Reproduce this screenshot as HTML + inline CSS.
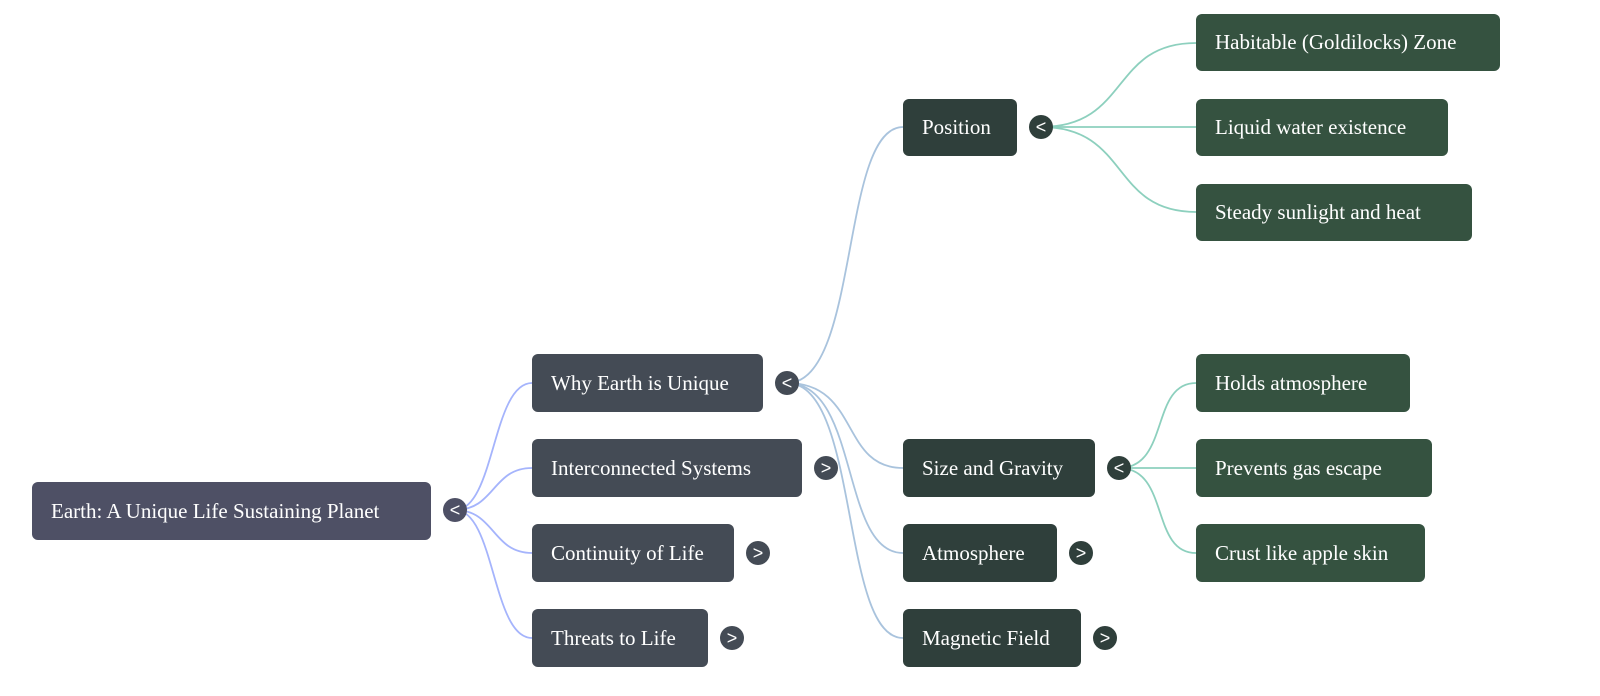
<!DOCTYPE html>
<html><head><meta charset="utf-8"><style>
body{margin:0;width:1600px;height:696px;background:#fff;position:relative;overflow:hidden;font-family:"Liberation Serif",serif}
.n{position:absolute;box-sizing:border-box;border-radius:6px;color:#fff;font-size:21px;padding-left:19px;display:flex;align-items:center;white-space:nowrap}
.r{background:#4e5065}.a{background:#444b55}.b{background:#2f3f3b}.c{background:#355240}
.t{position:absolute;width:24px;height:24px;border-radius:50%;color:#fff;font-family:"Liberation Sans",sans-serif;font-size:18px;display:flex;align-items:center;justify-content:center;line-height:1}
svg{position:absolute;left:0;top:0}
</style></head><body>
<svg width="1600" height="696" fill="none" stroke-width="1.8">
<g stroke="#a5b4fc">
<path d="M455 510 C495 510,492 383,532 383"/><path d="M455 510 C495 510,492 468,532 468"/><path d="M455 510 C495 510,492 553,532 553"/><path d="M455 510 C495 510,492 638,532 638"/>
</g>
<g stroke="#a9c3dd">
<path d="M787 383 C860 383,840 127,903 127"/><path d="M787 383 C860 383,840 468,903 468"/><path d="M787 383 C860 383,840 553,903 553"/><path d="M787 383 C860 383,840 638,903 638"/>
</g>
<g stroke="#8dd0be">
<path d="M1041 127 C1130 127,1110 43,1196 43"/><path d="M1041 127 L1196 127"/><path d="M1041 127 C1130 127,1110 212,1196 212"/>
<path d="M1119 468 C1170 468,1150 383,1196 383"/><path d="M1119 468 L1196 468"/><path d="M1119 468 C1170 468,1150 553,1196 553"/>
</g>
</svg>
<div class="n r" style="left:32px;top:482px;width:399px;height:58px">Earth: A Unique Life Sustaining Planet</div>
<div class="t" style="left:443px;top:498px;background:#4e5065">&lt;</div>
<div class="n a" style="left:532px;top:354px;width:231px;height:58px">Why Earth is Unique</div>
<div class="n a" style="left:532px;top:439px;width:270px;height:58px">Interconnected Systems</div>
<div class="n a" style="left:532px;top:524px;width:202px;height:58px">Continuity of Life</div>
<div class="n a" style="left:532px;top:609px;width:176px;height:58px">Threats to Life</div>
<div class="t" style="left:775px;top:371px;background:#444b55">&lt;</div>
<div class="t" style="left:814px;top:456px;background:#444b55">&gt;</div>
<div class="t" style="left:746px;top:541px;background:#444b55">&gt;</div>
<div class="t" style="left:720px;top:626px;background:#444b55">&gt;</div>
<div class="n b" style="left:903px;top:99px;width:114px;height:57px">Position</div>
<div class="n b" style="left:903px;top:439px;width:192px;height:58px">Size and Gravity</div>
<div class="n b" style="left:903px;top:524px;width:154px;height:58px">Atmosphere</div>
<div class="n b" style="left:903px;top:609px;width:178px;height:58px">Magnetic Field</div>
<div class="t" style="left:1029px;top:115px;background:#2f3f3b">&lt;</div>
<div class="t" style="left:1107px;top:456px;background:#2f3f3b">&lt;</div>
<div class="t" style="left:1069px;top:541px;background:#2f3f3b">&gt;</div>
<div class="t" style="left:1093px;top:626px;background:#2f3f3b">&gt;</div>
<div class="n c" style="left:1196px;top:14px;width:304px;height:57px">Habitable (Goldilocks) Zone</div>
<div class="n c" style="left:1196px;top:99px;width:252px;height:57px">Liquid water existence</div>
<div class="n c" style="left:1196px;top:184px;width:276px;height:57px">Steady sunlight and heat</div>
<div class="n c" style="left:1196px;top:354px;width:214px;height:58px">Holds atmosphere</div>
<div class="n c" style="left:1196px;top:439px;width:236px;height:58px">Prevents gas escape</div>
<div class="n c" style="left:1196px;top:524px;width:229px;height:58px">Crust like apple skin</div>
</body></html>
